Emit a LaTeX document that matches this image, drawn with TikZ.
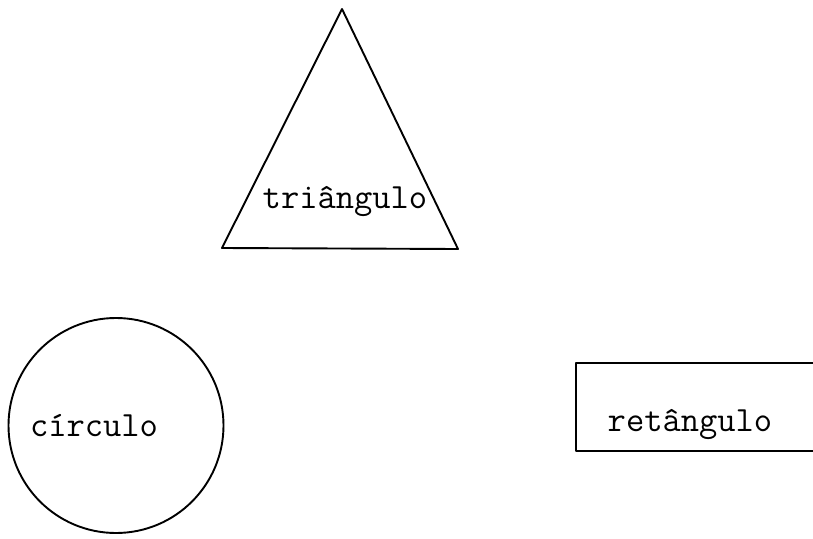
\documentclass[tikz,border=0pt]{standalone}
\usepackage{fontspec}
\begin{document}
\begin{tikzpicture}[x=1pt,y=-1pt,
  shape line/.style={draw=black,line width=1.9pt,line join=round},
  label text/.style={font=\ttfamily\fontsize{35.5}{38}\selectfont,inner sep=0pt}]
\clip (0,0) rectangle (813,538);
\fill[white] (0,0) rectangle (813,538);
% triangle
\coordinate (tA) at (342,9);
\coordinate (tB) at (222,248);
\coordinate (tC) at (458,249);
\draw[shape line] (tA) -- (tB) -- (tC) -- cycle;
\node[label text] (tri) at (345,201) {triângulo};
% circle
\node[shape line,circle,minimum size=215pt,inner sep=0pt] (circ) at (116,425.5) {};
\node[label text] (circtext) at (94,426) {círculo};
% rectangle (right side beyond the edge)
\node[shape line,rectangle,minimum width=280pt,minimum height=88pt,inner sep=0pt,anchor=north west] (rect) at (575,362) {};
\node[label text] (recttext) at (690,424) {retângulo};
\end{tikzpicture}
\end{document}
